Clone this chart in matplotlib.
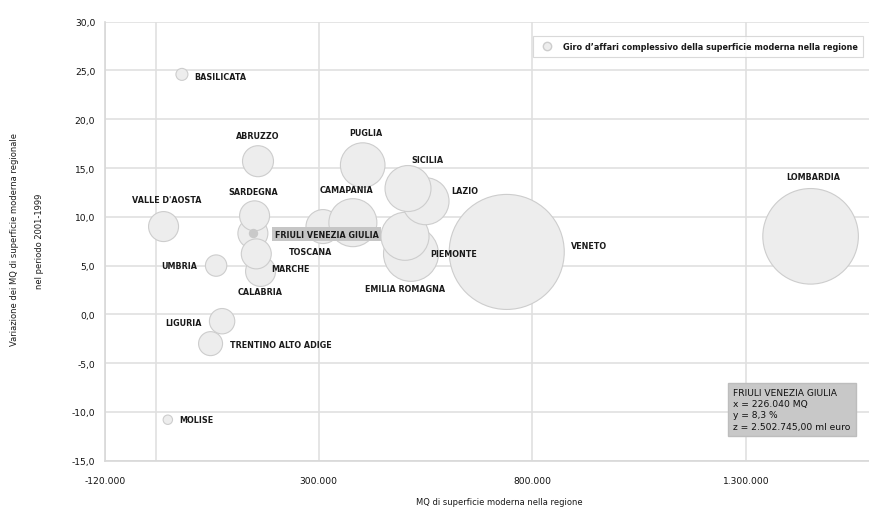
import matplotlib
matplotlib.use('Agg')
import matplotlib.pyplot as plt
from matplotlib.lines import Line2D

# data (draw order: big ones first so the small ones stay on top)
regioni = ['LOMBARDIA', 'VENETO', 'EMILIA ROMAGNA', 'PIEMONTE', 'LAZIO', 'SICILIA',
           'PUGLIA', 'TOSCANA', 'CAMAPANIA', 'CALABRIA', 'FRIULI VENEZIA GIULIA',
           'MARCHE', 'SARDEGNA', 'ABRUZZO', "VALLE D'AOSTA", 'UMBRIA',
           'TRENTINO ALTO ADIGE', 'LIGURIA', 'BASILICATA', 'MOLISE']
mq = [1531000, 820000, 596000, 582000, 630000, 589000,
      483000, 390000, 460000, 244000, 226040,
      234000, 230000, 238000, 17000, 140000,
      127000, 154000, 60000, 27000]
variazione = [8.0, 6.4, 6.2, 8.0, 11.6, 12.9,
              15.3, 9.0, 9.4, 4.4, 8.3,
              6.2, 10.1, 15.7, 9.0, 5.0,
              -3.0, -0.7, 24.6, -10.8]
giro = [25400000, 36800000, 8410000, 6410000, 6140000, 5880000,
        5530000, 3210000, 6410000, 2500000, 2502745,
        2500000, 2500000, 2670000, 2500000, 1270000,
        1600000, 1790000, 400000, 246000]

xtick_pos = [-120000, 380000, 880000, 1380000]
xtick_lab = ['-120.000', '300.000', '800.000', '1.300.000']
ytick_pos = [-15, -10, -5, 0, 5, 10, 15, 20, 25, 30]

# label placement, offset in pixels from bubble centre (dx, dy, ha)
label_pos = {
    'LOMBARDIA': (3, 60, 'center'),
    'VENETO': (64, 6, 'left'),
    'EMILIA ROMAGNA': (-6, -35, 'center'),
    'PIEMONTE': (25, -17, 'left'),
    'LAZIO': (26, 11, 'left'),
    'SICILIA': (19, 29, 'center'),
    'PUGLIA': (3, 33, 'center'),
    'TOSCANA': (-12, -25, 'center'),
    'CAMAPANIA': (-6, 33, 'center'),
    'CALABRIA': (0, -20, 'center'),
    'FRIULI VENEZIA GIULIA': (22, -1, 'left'),
    'MARCHE': (15, -15, 'left'),
    'SARDEGNA': (-1, 24, 'center'),
    'ABRUZZO': (0, 26, 'center'),
    "VALLE D'AOSTA": (3, 27, 'center'),
    'UMBRIA': (-19, 0, 'right'),
    'TRENTINO ALTO ADIGE': (19, -1, 'left'),
    'LIGURIA': (-20, -1, 'right'),
    'BASILICATA': (12, -2, 'left'),
    'MOLISE': (11, 0, 'left'),
}

plt.rcParams['font.family'] = ['DejaVu Sans']
fig = plt.figure(figsize=(8.7, 5.1), dpi=100)
ax = fig.add_axes([105 / 870, 48.3 / 510, 765 / 870, 439 / 510])

# bubble area proportional to turnover; FVG bubble ~15 px radius
k = (1.44 * 15) ** 2 / 2502745
sizes = [g * k for g in giro]
ax.scatter(mq, variazione, s=sizes, facecolor='#ededed', edgecolor='#cdcdcd',
           linewidth=0.8, zorder=3)

# hover dot on Friuli
i_fvg = regioni.index('FRIULI VENEZIA GIULIA')
ax.scatter([mq[i_fvg]], [variazione[i_fvg]], s=33, color='#c9c9c9', zorder=4)

for i, nome in enumerate(regioni):
    dx, dy, ha = label_pos[nome]
    kw = {}
    if nome == 'FRIULI VENEZIA GIULIA':
        kw['bbox'] = dict(boxstyle='square,pad=0.3', fc='#c6c6c6', ec='none')
    ax.annotate(nome, (mq[i], variazione[i]), xytext=(dx, dy), textcoords='offset pixels',
                ha=ha, va='center', fontsize=5.8, fontweight='bold', color='#1a1a1a',
                zorder=5, **kw)

ax.set_xlim(-120000, 1670000)
ax.set_ylim(-15, 30)
ax.set_xticks(xtick_pos)
ax.set_xticklabels(xtick_lab)
ax.set_yticks(ytick_pos)
ax.set_yticklabels(['{:.1f}'.format(v).replace('.', ',') for v in ytick_pos])
ax.tick_params(length=0, labelsize=6.6, colors='#111111')
ax.tick_params(axis='y', pad=7)
ax.tick_params(axis='x', pad=11)
ax.grid(True, color='#e0e0e0', linewidth=1.2, zorder=0)
ax.axvline(0, color='#e0e0e0', linewidth=1.2, zorder=0)
ax.set_axisbelow(True)
for side in ['top', 'right']:
    ax.spines[side].set_visible(False)
for side in ['left', 'bottom']:
    ax.spines[side].set_color('#d8d8d8')
    ax.spines[side].set_linewidth(1.2)

handle = Line2D([], [], marker='o', linestyle='none', markersize=6,
                markerfacecolor='#ededed', markeredgecolor='#cdcdcd')
leg = ax.legend([handle], ['Giro d\u2019affari complessivo della superficie moderna nella regione'],
                loc='upper right', bbox_to_anchor=(0.991, 0.967), borderaxespad=0,
                prop={'size': 5.85, 'weight': 'bold'}, frameon=True, fancybox=False,
                handletextpad=0.9, borderpad=0.7)
leg.get_frame().set_edgecolor('#d0d0d0')
leg.get_frame().set_linewidth(0.8)
for t in leg.get_texts():
    t.set_color('#1a1a1a')

# tooltip box
ax.text(0.821, 0.165,
        'FRIULI VENEZIA GIULIA\nx = 226.040 MQ\ny = 8,3 %\nz = 2.502.745,00 ml euro',
        transform=ax.transAxes, ha='left', va='top', fontsize=6.6, color='#111111',
        linespacing=1.3, zorder=6,
        bbox=dict(boxstyle='square,pad=0.6', fc='#c8c8c8', ec='#bdbdbd'))

fig.text(15 / 870, 1 - 240 / 510, 'Variazione dei MQ di superficie moderna regionale',
         rotation=90, ha='center', va='center', fontsize=6, color='#1a1a1a')
fig.text(40 / 870, 1 - 241 / 510, 'nel periodo 2001-1999',
         rotation=90, ha='center', va='center', fontsize=6, color='#1a1a1a')
fig.text(499 / 870, 1 - 503 / 510, 'MQ di superficie moderna nella regione',
         ha='center', va='center', fontsize=6, color='#1a1a1a')

fig.savefig('out.png', dpi=100)
